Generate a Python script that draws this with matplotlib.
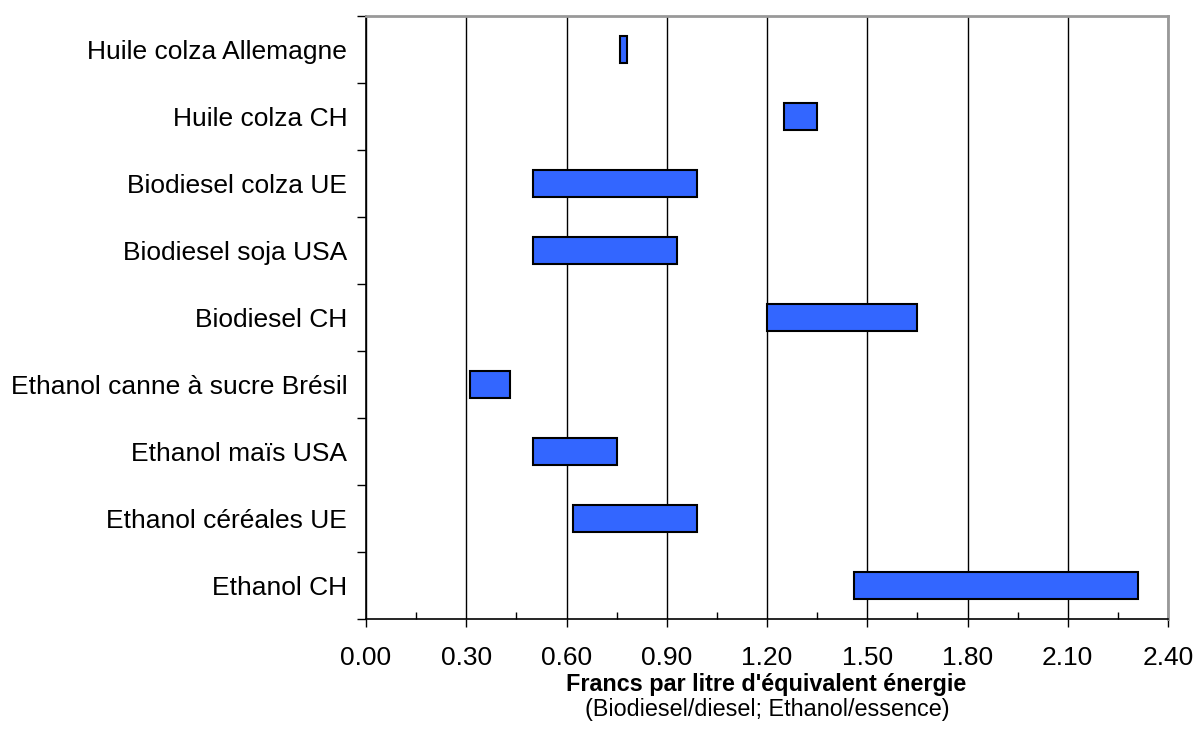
import numpy as np
import matplotlib.pyplot as plt
from matplotlib.ticker import MultipleLocator, FixedLocator

plt.rcParams['font.family'] = ['Liberation Sans', 'DejaVu Sans']

# données : fourchette de prix (Francs par litre d'équivalent énergie)
categories = [
    "Huile colza Allemagne",
    "Huile colza CH",
    "Biodiesel colza UE",
    "Biodiesel soja USA",
    "Biodiesel CH",
    "Ethanol canne à sucre Brésil",
    "Ethanol maïs USA",
    "Ethanol céréales UE",
    "Ethanol CH",
]
low = [0.76, 1.25, 0.50, 0.50, 1.20, 0.31, 0.50, 0.62, 1.46]
high = [0.78, 1.35, 0.99, 0.93, 1.65, 0.43, 0.75, 0.99, 2.31]

fig = plt.figure(figsize=(11.95, 7.47), dpi=100)
ax = fig.add_axes([0.3063, 0.1714, 0.6711, 0.8072])

y = np.arange(len(categories))
widths = np.array(high) - np.array(low)
ax.barh(y, widths, left=low, height=0.4, color='#3366FF',
        edgecolor='black', linewidth=1.5, zorder=3)

ax.set_xlim(0, 2.40)
ax.set_ylim(len(categories) - 0.5, -0.5)

# axe x
ax.xaxis.set_major_locator(MultipleLocator(0.30))
ax.xaxis.set_minor_locator(FixedLocator(np.arange(0.15, 2.40, 0.30)))
ax.xaxis.set_major_formatter(plt.FuncFormatter(lambda v, p: f'{v:.2f}'))
ax.tick_params(axis='x', which='major', direction='out', length=5.8,
               width=1, labelsize=19, pad=13.5)
ax.tick_params(axis='x', which='minor', direction='in', length=5, width=1)
ax.grid(axis='x', which='major', color='black', linewidth=1, zorder=0)

# axe y
ax.set_yticks(y)
ax.set_yticklabels(categories)
ax.yaxis.set_minor_locator(FixedLocator(np.arange(-0.5, len(categories), 1)))
ax.tick_params(axis='y', which='major', length=0, labelsize=19, pad=13.5)
ax.tick_params(axis='y', which='minor', direction='out', length=6.5, width=1)

for s in ['left', 'bottom']:
    ax.spines[s].set_color('black')
    ax.spines[s].set_linewidth(1.2)
for s in ['top', 'right']:
    ax.spines[s].set_color('#999999')
    ax.spines[s].set_linewidth(2)

fig.text(0.641, 0.083, "Francs par litre d'équivalent énergie",
         ha='center', va='center', fontsize=16.8, fontweight='bold')
fig.text(0.642, 0.050, "(Biodiesel/diesel; Ethanol/essence)",
         ha='center', va='center', fontsize=16.8)

fig.savefig('out.png', dpi=100)
